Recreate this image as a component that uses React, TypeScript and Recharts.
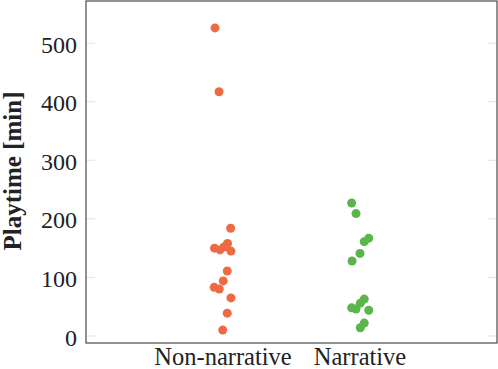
import React from "react";
import { ScatterChart, Scatter, XAxis, YAxis } from "recharts";

const categories = ["Non-narrative", "Narrative"];
const yTicks = [0, 100, 200, 300, 400, 500];

// horizontal jitter (in category units) and playtime (minutes)
const nonNarrativeJitter = [-0.058, -0.029, 0.056, -0.062, -0.022, 0.007, 0.033, 0.058, 0.031, 0.002, -0.064, -0.027, 0.058, 0.031, -0.002];
const nonNarrativePlaytime = [526, 417, 184, 150, 147, 152, 158, 145, 111, 94, 83, 80, 65, 39, 10];

const narrativeJitter = [-0.061, -0.029, 0.064, 0.031, 0.0, -0.058, -0.061, -0.029, 0.002, 0.031, 0.064, 0.031, 0.002];
const narrativePlaytime = [227, 209, 167, 161, 141, 128, 48, 46, 56, 63, 44, 22, 14];

const nonNarrativeData = nonNarrativePlaytime.map((v, i) => ({ x: 0 + nonNarrativeJitter[i], y: v }));
const narrativeData = narrativePlaytime.map((v, i) => ({ x: 1 + narrativeJitter[i], y: v }));

const FONT = "'Liberation Serif', 'Times New Roman', serif";
const ORANGE = "#ee6a44";
const GREEN = "#5cb54a";

const dot = (color: string) => (props: any) => (
  <circle cx={props.cx} cy={props.cy} r={4.5} fill={color} />
);

const YTick = (props: any) => {
  const { y, payload } = props;
  return (
    <g>
      <text x={77} y={y} dy="0.4em" textAnchor="end" fontFamily={FONT} fontSize={24} fill="#222">
        {payload.value}
      </text>
      <line x1={86} x2={95} y1={y} y2={y} stroke="#e2e2e2" />
      <line x1={488} x2={497} y1={y} y2={y} stroke="#e2e2e2" />
    </g>
  );
};

const XTick = (props: any) => {
  const { x, payload } = props;
  return (
    <text x={x} y={365} textAnchor="middle" fontFamily={FONT} fontSize={24.5} fill="#222">
      {categories[payload.value]}
    </text>
  );
};

export default function App() {
  return (
    <div
      style={{
        position: "fixed",
        left: 0,
        top: 0,
        width: 498,
        height: 369,
        background: "#fff",
        overflow: "hidden",
      }}
    >
      <ScatterChart width={498} height={369} margin={{ top: 1, right: 1, bottom: 0, left: 0 }}>
        <XAxis
          type="number"
          dataKey="x"
          domain={[-1, 2]}
          ticks={[0, 1]}
          height={26}
          axisLine={false}
          tickLine={false}
          tick={<XTick />}
          interval={0}
        />
        <YAxis
          type="number"
          dataKey="y"
          domain={[-12, 572]}
          ticks={yTicks}
          width={86}
          axisLine={false}
          tickLine={false}
          tick={<YTick />}
          interval={0}
        />
        <Scatter data={nonNarrativeData} fill={ORANGE} shape={dot(ORANGE)} isAnimationActive={false} />
        <Scatter data={narrativeData} fill={GREEN} shape={dot(GREEN)} isAnimationActive={false} />
      </ScatterChart>
      <svg
        width={498}
        height={369}
        style={{ position: "absolute", left: 0, top: 0, pointerEvents: "none" }}
      >
        <rect x={86} y={1} width={411} height={342} fill="none" stroke="#4a4a4a" strokeWidth={1.2} />
        <text
          x={21}
          y={171}
          transform="rotate(-90, 21, 171)"
          textAnchor="middle"
          fontFamily={FONT}
          fontWeight="bold"
          fontSize={25}
          fill="#222"
        >
          Playtime [min]
        </text>
      </svg>
    </div>
  );
}
